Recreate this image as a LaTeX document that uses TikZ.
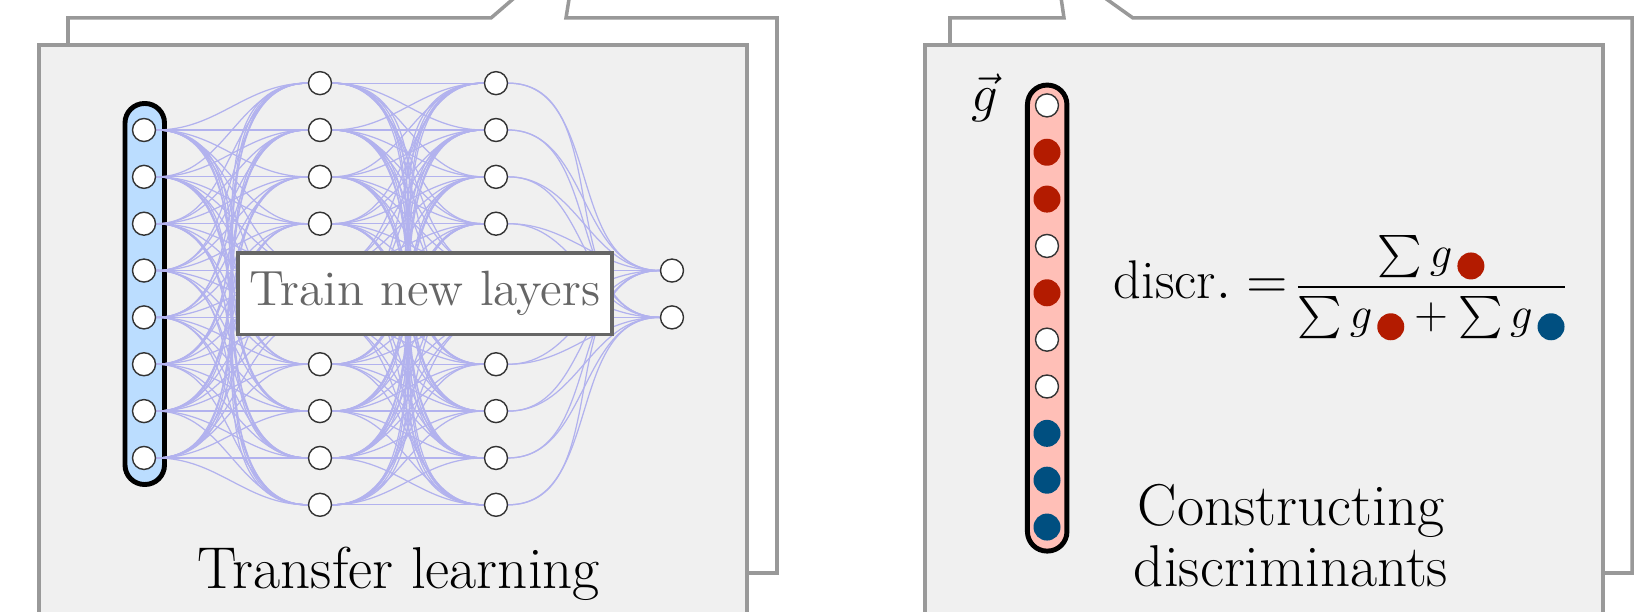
\documentclass[tikz,border=0pt]{standalone}
\usepackage{fix-cm}
\usepackage{amsmath}
\usepackage{fontspec}
\usepackage{tikz}
\usetikzlibrary{positioning,backgrounds}
\definecolor{panelfond}{HTML}{F0F0F0}
\definecolor{panelbord}{HTML}{999999}
\definecolor{bleuboite}{HTML}{BBDDFF}
\definecolor{roseboite}{HTML}{FFBFB7}
\definecolor{lavande}{HTML}{B2B2EE}
\definecolor{rougepoint}{HTML}{B31B00}
\definecolor{bleupoint}{HTML}{004F80}
\definecolor{grisfonce}{HTML}{666666}
\pgfdeclarelayer{fond}
\pgfdeclarelayer{liens}
\pgfsetlayers{fond,liens,main}
\tikzset{
  arriere/.style={draw=panelbord,line width=1pt,fill=white},
  panneau/.style={draw=panelbord,line width=1pt,fill=panelfond},
  colonne/.style={draw=black,line width=1.4pt,rounded corners=0.195cm,
                  minimum width=0.395cm,inner sep=0pt},
  neurone/.style={circle,draw=black!80,fill=white,line width=0.4pt,
                  inner sep=0pt,minimum size=0.23cm},
  rouge/.style={circle,fill=rougepoint,inner sep=0pt,minimum size=0.27cm},
  bleu/.style={circle,fill=bleupoint,inner sep=0pt,minimum size=0.27cm},
  lien/.style={draw=lavande,line width=0.35pt},
  titre/.style={font=\fontsize{16.8}{17.6}\selectfont,align=center,inner sep=0pt},
}
\newcommand{\gpoint}[1]{\mkern2mu\tikz[baseline=-0.02cm]\fill[#1] (0,0) circle (0.135cm);}

\begin{document}
\begin{tikzpicture}
  \useasboundingbox (0,0) rectangle (16.5,6.12);
  \begin{pgfonlayer}{fond}
    \clip (0,0) rectangle (16.5,6.12);
    % two stacked sheets on each side, the back one with a pointer going up
    \draw[arriere] (0.68,0.39) -- (0.68,5.94) -- (4.91,5.94) -- (5.78,6.69)
      -- (5.66,5.94) -- (7.77,5.94) -- (7.77,0.39) -- cycle;
    \draw[panneau] (0.39,-0.3) rectangle (7.47,5.67);
    \draw[arriere] (9.50,0.39) -- (9.50,5.94) -- (10.64,5.94) -- (10.56,6.49)
      -- (11.33,5.94) -- (16.32,5.94) -- (16.32,0.39) -- cycle;
    \draw[panneau] (9.25,-0.3) rectangle (16.03,5.67);
    \node[colonne,fill=bleuboite,minimum height=3.81cm] (entree) at (1.4475,3.18) {};
    \node[colonne,fill=roseboite,minimum height=4.66cm] (vecteur) at (10.472,2.939) {};
  \end{pgfonlayer}

  % network
  \foreach \i in {1,...,8}
    \node[neurone] (e\i) at (1.44,{5.2885-0.4685*\i}) {};
  \foreach \j in {1,2,3,4,7,8,9,10} {
    \node[neurone] (a\j) at (3.20,{5.2885-0.4685*(\j-1)}) {};
    \node[neurone] (b\j) at (4.96,{5.2885-0.4685*(\j-1)}) {};
  }
  \foreach \j in {5,6} {
    \coordinate (a\j) at (3.20,{5.2885-0.4685*(\j-1)});
    \coordinate (b\j) at (4.96,{5.2885-0.4685*(\j-1)});
  }
  \node[neurone] (s1) at (6.72,{5.2885-0.4685*4}) {};
  \node[neurone] (s2) at (6.72,{5.2885-0.4685*5}) {};
  \begin{pgfonlayer}{liens}
    \foreach \i in {1,...,8} \foreach \j in {1,...,10}
      \draw[lien] (e\i) to[out=0,in=180] (a\j);
    \foreach \i in {1,...,10} \foreach \j in {1,...,10}
      \draw[lien] (a\i) to[out=0,in=180] (b\j);
    \foreach \i in {1,...,10} \foreach \j in {1,2}
      \draw[lien] (b\i) to[out=0,in=180] (s\j);
  \end{pgfonlayer}
  \node[draw=grisfonce,line width=1.1pt,fill=white,text=grisfonce,
        minimum width=3.72cm,minimum height=0.816cm,
        font=\fontsize{14.1}{16}\selectfont] (train) at (4.25,3.1825) {Train new layers};
  \node[titre,anchor=base] (tl) at (3.99,0.23) {Transfer learning};

  % g vector
  \foreach \s [count=\k] in {neurone,rouge,rouge,neurone,rouge,neurone,neurone,bleu,bleu,bleu}
    \node[\s] (g\k) at (10.47,{5.066-0.4685*(\k-1)}) {};
  \node[font=\fontsize{15}{17.6}\selectfont,inner sep=0pt] (gvec) at (9.85,5.14) {$\vec{g}$};
  \node[anchor=west,inner sep=0pt,font=\fontsize{15.5}{18}\selectfont] (discr) at (11.13,3.24)
    {$\mathrm{discr.} = \mkern-3mu\mbox{\fontsize{12.7}{15}\selectfont$\displaystyle
      \frac{\sum g\gpoint{rougepoint}}
      {\sum g\gpoint{rougepoint} + \sum g\gpoint{bleupoint}}$}$};
  \node[titre,anchor=base] (cd) at (12.91,0.25) {Constructing\\discriminants};
\end{tikzpicture}
\end{document}
